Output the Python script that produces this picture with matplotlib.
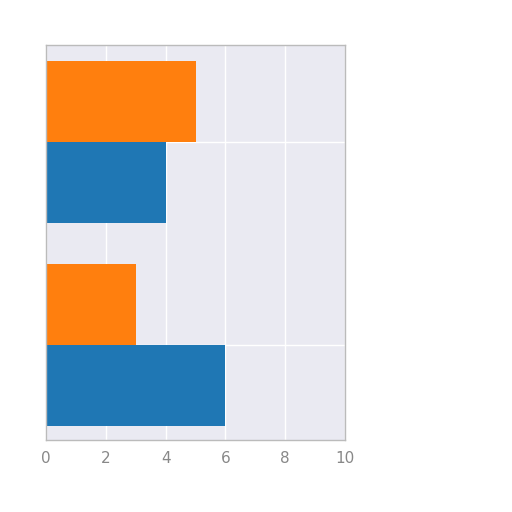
import numpy as np
import matplotlib
matplotlib.use("Agg")
import matplotlib.pyplot as plt

# two groups, bottom to top
categories = ["A", "B"]
blue_vals = [6, 4]
orange_vals = [3, 5]
xticks = [0, 2, 4, 6, 8, 10]

fig = plt.figure(figsize=(5.12, 5.12), dpi=100)
ax = fig.add_axes([0.09, 0.14, 0.584, 0.772])
ax.set_facecolor("#EAEAF2")

y = np.arange(len(categories))
h = 0.4
ax.barh(y - h/2, blue_vals, height=h, color="#1f77b4", zorder=2)
ax.barh(y + h/2, orange_vals, height=h, color="#ff7f0e", zorder=2)

ax.set_xlim(0, 10)
ax.set_ylim(-0.47, 1.48)
ax.set_xticks(xticks)
ax.set_yticks(y)
ax.set_yticklabels([])
ax.grid(True, color="white", linewidth=1.0, zorder=1)
ax.set_axisbelow(True)
ax.tick_params(length=0, labelsize=11, labelcolor="#888888", pad=8)
for s in ax.spines.values():
    s.set_color("#BBBBBB")
    s.set_linewidth(1.0)

fig.savefig("out.png", dpi=100)
